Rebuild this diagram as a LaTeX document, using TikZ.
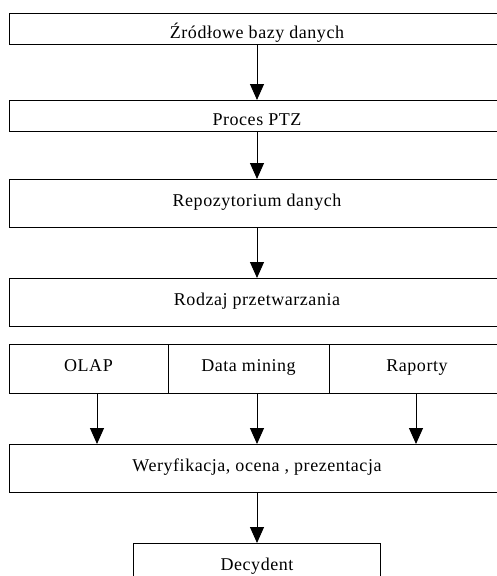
\documentclass[tikz,border=0pt]{standalone}
\usepackage{fontspec}
\setmainfont{Liberation Serif}[LetterSpace=3]
\usepackage{xcolor}
\definecolor{linecolor}{HTML}{000000}
\definecolor{textcolor}{HTML}{000000}
\usepackage{tikz}
\usetikzlibrary{positioning,arrows.meta}
\tikzset{
    block/.style={
        rectangle,
        draw=linecolor,
        fill=white,
        text=textcolor,
        minimum height=48pt,
        minimum width=496pt,
        align=center,
        line width=1pt,
        outer sep=0pt,
        inner sep=0pt,
        text height=12pt,
        text depth=6pt,
        font=\fontsize{18}{21}\selectfont,
    },
    flatblock/.style={
        block,
        minimum height=31pt,
        text height=19pt,
        text depth=0pt,
    },
    flow/.style={
        -{Triangle[width=14pt,length=16pt]},
        line width=1pt,
        linecolor,
    },
}

\begin{document}
\begin{tikzpicture}[x=1pt,y=1pt]
        \useasboundingbox (0,0) rectangle (496,-576);
        \node[flatblock, anchor=north west] (zrodla) at (9,-13) {Źródłowe bazy danych};
        \node[flatblock, below=56pt of zrodla] (ptz) {Proces PTZ};
        \node[block, below=48pt of ptz] (repo) {Repozytorium danych};
        \node[block, below=51pt of repo] (rodzaj) {Rodzaj przetwarzania};
        
        \node[block, minimum width=159pt, minimum height=49pt, below right=18pt and 0pt of rodzaj.south west] (olap) {OLAP};
        \node[block, minimum width=161pt, minimum height=49pt, right=0pt of olap] (mining) {Data mining};
        \node[block, minimum width=176pt, minimum height=49pt, right=0pt of mining] (raporty) {Raporty};
        
        \node[block, below right=51pt and 0pt of olap.south west] (weryf) {Weryfikacja, ocena , prezentacja};
        \node[block, minimum width=247pt, below=51pt of weryf] (decydent) {Decydent};
        
        \draw[flow] (zrodla) -- (ptz);
        \draw[flow] (ptz) -- (repo);
        \draw[flow] (repo) -- (rodzaj);
        \draw[flow] ([xshift=-160pt]weryf.north |- olap.south) -- ([xshift=-160pt]weryf.north);
        \draw[flow] (weryf.north |- mining.south) -- (weryf.north);
        \draw[flow] ([xshift=159pt]weryf.north |- raporty.south) -- ([xshift=159pt]weryf.north);
        \draw[flow] (weryf) -- (decydent);
    \end{tikzpicture}
\end{document}
